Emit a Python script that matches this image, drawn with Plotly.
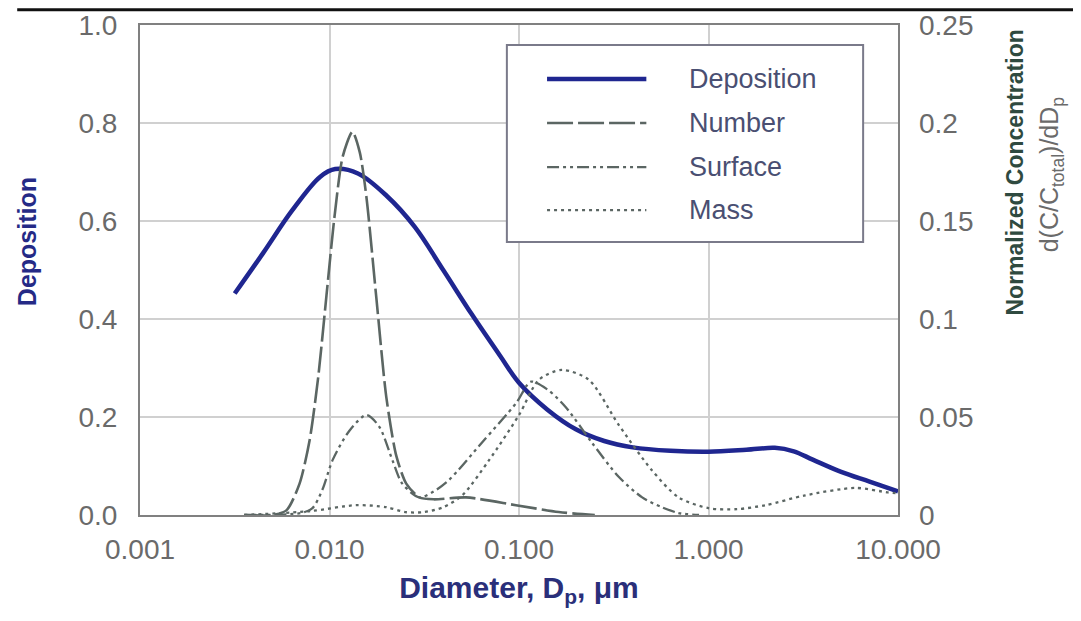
import plotly.graph_objects as go

# ---------------- data ----------------
tick_vals = [0.001, 0.01, 0.1, 1, 10]
tick_text = ["0.001", "0.010", "0.100", "1.000", "10.000"]
y1_ticks = [0, 0.2, 0.4, 0.6, 0.8, 1.0]
y1_text = ["0.0", "0.2", "0.4", "0.6", "0.8", "1.0"]
y2_ticks = [0, 0.05, 0.1, 0.15, 0.2, 0.25]
y2_text = ["0", "0.05", "0.1", "0.15", "0.2", "0.25"]

# diameters in micrometres
dep_d = [0.00316, 0.00447, 0.00631, 0.00891, 0.01072, 0.01413, 0.01995, 0.02818, 0.03981,
         0.05623, 0.07943, 0.1, 0.1413, 0.1995, 0.2818, 0.3981, 0.631, 1.0, 1.585, 2.239,
         2.818, 3.548, 5.012, 7.079, 10.0]
dep_v = [0.452, 0.535, 0.62, 0.69, 0.706, 0.697, 0.652, 0.588, 0.5,
         0.41, 0.325, 0.27, 0.215, 0.175, 0.151, 0.138, 0.131, 0.129, 0.133, 0.137,
         0.13, 0.113, 0.088, 0.068, 0.048]

num_d = [0.00355, 0.00501, 0.00594, 0.00695, 0.00785, 0.00871, 0.00964, 0.01062, 0.01175,
         0.01321, 0.01445, 0.01567, 0.01766, 0.01995, 0.02254, 0.02541, 0.02979, 0.03548,
         0.05248, 0.09638, 0.1622, 0.2512]
num_v = [0, 0, 0.0025, 0.016, 0.038, 0.07, 0.112, 0.152, 0.183,
         0.1955, 0.185, 0.162, 0.111, 0.06, 0.03, 0.016, 0.009, 0.008,
         0.009, 0.005, 0.0015, 0]

surf_d = [0.00355, 0.00708, 0.00813, 0.00918, 0.01038, 0.01274, 0.01567, 0.01832, 0.02148,
          0.02421, 0.02979, 0.03548, 0.04285, 0.06383, 0.09638, 0.1156, 0.1413, 0.1766,
          0.2421, 0.3357, 0.4467, 0.5662, 0.695, 0.8913]
surf_v = [0, 0.001, 0.0035, 0.013, 0.028, 0.043, 0.051, 0.045, 0.028,
          0.016, 0.009, 0.012, 0.018, 0.037, 0.057, 0.068, 0.064, 0.055,
          0.037, 0.0195, 0.009, 0.004, 0.001, 0]

mass_d = [0.00355, 0.00794, 0.0138, 0.01995, 0.02512, 0.03162, 0.03981, 0.05012, 0.0695,
          0.1, 0.1274, 0.1683, 0.2333, 0.3357, 0.5012, 0.695, 1.0, 1.413, 1.995, 3.236,
          5.943, 8.851, 10.0]
mass_v = [0, 0.002, 0.005, 0.004, 0.0015, 0.0015, 0.004, 0.01, 0.028,
          0.051, 0.069, 0.074, 0.069, 0.046, 0.023, 0.009, 0.0035, 0.003, 0.005, 0.01,
          0.0138, 0.0115, 0.011]

series_names = ["Deposition", "Number", "Surface", "Mass"]

# ---------------- styles ----------------
FONT = "Liberation Sans, Arial, sans-serif"
NAVY = "#1f2690"
GREY = "#5b6663"
styles = {
    "Deposition": dict(color=NAVY, width=4.5, dash="solid"),
    "Number": dict(color=GREY, width=2.6, dash="26px,5px"),
    "Surface": dict(color=GREY, width=2.3, dash="12px,4px,3px,4px,3px,4px"),
    "Mass": dict(color=GREY, width=2.3, dash="3px,4px"),
}

fig = go.Figure()
fig.add_trace(go.Scatter(x=mass_d, y=mass_v, name="Mass", yaxis="y2", mode="lines",
                         line=dict(**styles["Mass"], shape="spline", smoothing=0.8)))
fig.add_trace(go.Scatter(x=surf_d, y=surf_v, name="Surface", yaxis="y2", mode="lines",
                         line=dict(**styles["Surface"], shape="spline", smoothing=0.8)))
fig.add_trace(go.Scatter(x=num_d, y=num_v, name="Number", yaxis="y2", mode="lines",
                         line=dict(**styles["Number"], shape="spline", smoothing=0.7)))
fig.add_trace(go.Scatter(x=dep_d, y=dep_v, name="Deposition", yaxis="y", mode="lines",
                         line=dict(**styles["Deposition"], shape="spline", smoothing=1.0)))

tick_font = dict(family=FONT, size=28, color="#6a6a6a")

fig.update_layout(
    width=1065, height=605,
    margin=dict(l=132, r=175, t=17, b=98, autoexpand=False),
    paper_bgcolor="white", plot_bgcolor="white",
    showlegend=False,
    font=dict(family=FONT),
    xaxis=dict(
        type="log", range=[-3, 1], tickvals=tick_vals, ticktext=tick_text,
        showgrid=True, gridcolor="#d0d0d0", gridwidth=1.5,
        showline=True, linecolor="#808080", linewidth=2, mirror=True,
        ticks="", tickfont=tick_font, ticklabelstandoff=8, automargin=False,
        title=dict(text="<b>Diameter, D<sub>p</sub>, μm</b>",
                   font=dict(family=FONT, size=30, color="#2a2f7a"), standoff=13),
        zeroline=False,
    ),
    yaxis=dict(
        range=[0, 1.0], tickvals=y1_ticks, ticktext=y1_text,
        showgrid=True, gridcolor="#d0d0d0", gridwidth=1.5,
        showline=True, linecolor="#808080", linewidth=2, mirror=True,
        ticks="", tickfont=tick_font, ticklabelstandoff=15, automargin=False,
        zeroline=False,
    ),
    yaxis2=dict(
        overlaying="y", side="right", range=[0, 0.25],
        tickvals=y2_ticks, ticktext=y2_text, showgrid=False,
        ticks="", tickfont=tick_font, ticklabelstandoff=20, automargin=False,
        zeroline=False, showline=False,
    ),
)

# ---------------- axis titles placed as in the reference ----------------
fig.add_annotation(xref="paper", yref="paper", x=-0.149, y=0.557, textangle=-90,
                   text="<b>Deposition</b>", showarrow=False,
                   xanchor="center", yanchor="middle",
                   font=dict(family=FONT, size=25, color="#252a86"))
fig.add_annotation(xref="paper", yref="paper", x=1.155, y=0.70, textangle=-90,
                   text="<b>Normalized Concentration</b>", showarrow=False,
                   xanchor="center", yanchor="middle",
                   font=dict(family=FONT, size=23, color="#2f4a40"))
fig.add_annotation(xref="paper", yref="paper", x=1.203, y=0.695, textangle=-90,
                   text="d(C/C<sub>total</sub>)/dD<sub>p</sub>", showarrow=False,
                   xanchor="center", yanchor="middle",
                   font=dict(family=FONT, size=25, color="#6a6a6a"))

# ---------------- legend (drawn box) ----------------
box = dict(x0=0.484, x1=0.954, y0=0.557, y1=0.959)
fig.add_shape(type="rect", xref="paper", yref="paper", **box,
              line=dict(color="#7a7a8a", width=2), fillcolor="white", layer="above")
leg_y = [0.890, 0.800, 0.710, 0.622]
for name, yy in zip(series_names, leg_y):
    st = styles[name]
    fig.add_shape(type="line", xref="paper", yref="paper", x0=0.537, x1=0.668, y0=yy, y1=yy,
                  line=dict(color=st["color"], width=st["width"], dash=st["dash"]), layer="above")
    fig.add_annotation(xref="paper", yref="paper", x=0.722, y=yy, text=name, showarrow=False,
                       xanchor="left", yanchor="middle",
                       font=dict(family=FONT, size=27, color="#4a4f72"))

# top border rule of the page
fig.add_shape(type="line", xref="paper", yref="paper", x0=-0.162, x1=1.25, y0=1.031, y1=1.031,
              line=dict(color="#111111", width=3))

fig.write_html("out.html")
